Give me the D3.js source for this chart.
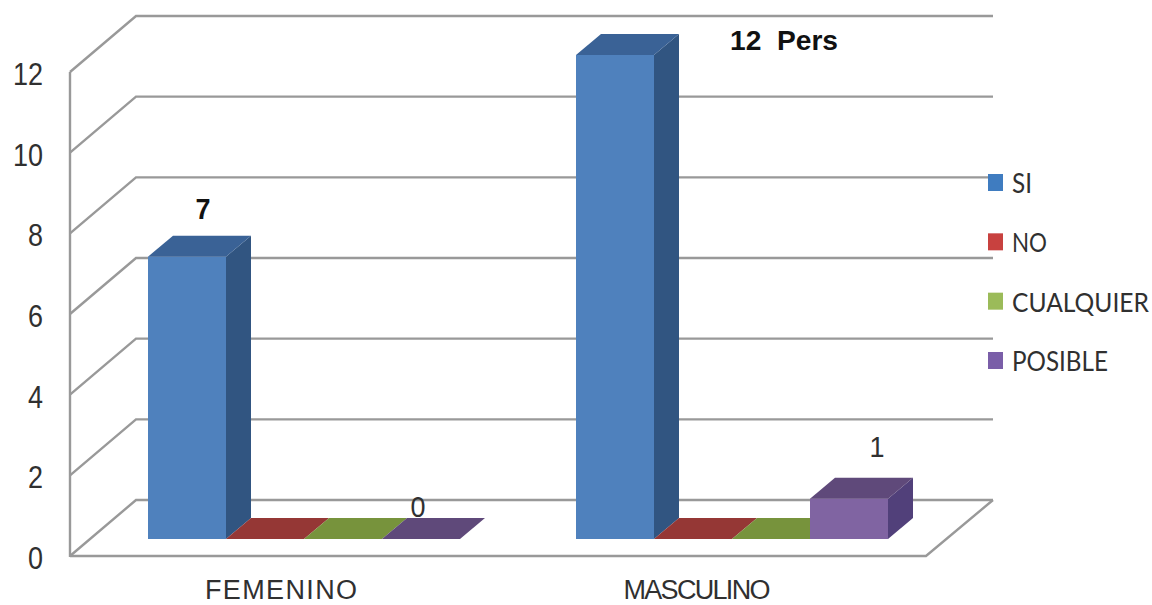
<!DOCTYPE html>
<html>
<head>
<meta charset="utf-8">
<script src="https://cdn.jsdelivr.net/npm/d3@7"></script>
<style>
  html, body { margin: 0; padding: 0; background: #fff; }
  svg { display: block; }
  text { font-family: "Liberation Sans", Arial, sans-serif; fill: #303030; }
</style>
</head>
<body>
<svg id="chart" width="1152" height="605"></svg>
<script>
const categories = ["FEMENINO", "MASCULINO"];
const seriesNames = ["SI", "NO", "CUALQUIER", "POSIBLE"];
const femenino = [7, 0, 0, 0];
const masculino = [12, 0, 0, 1];
const yTicks = [0, 2, 4, 6, 8, 10, 12];
const valueLabels = [
  { category: "FEMENINO", series: "SI", text: "7", bold: true },
  { category: "FEMENINO", series: "POSIBLE", text: "0", bold: false },
  { category: "MASCULINO", series: "SI", text: "12  Pers", bold: true },
  { category: "MASCULINO", series: "POSIBLE", text: "1", bold: false }
];

const fronts = ["#4f81bd", "#c0504d", "#9bbb59", "#8064a2"];
const tops = ["#3a6296", "#953735", "#77933c", "#5f497a"];
const sides = ["#315581", "#7f2f2d", "#647d33", "#51407a"];
const legendColors = ["#3f7cc0", "#c8413f", "#9bbb59", "#7a5ea8"];
const gridColor = "#999999";

const svg = d3.select("#chart");

// Front plane of the 3D box; the back wall is the same plane shifted by wall depth.
const yFront = d3.scaleLinear().domain([0, 12]).range([556, 72]);
const xCat = d3.scaleBand().domain(categories).range([70, 926]);
const wall = { dx: 66, dy: -56 };
const rightBack = 993;

// Bars stand on the floor a little behind the front edge and have their own depth.
const barLift = -17;
const barDepth = { dx: 25, dy: -21 };
const yBar = v => yFront(v) + barLift;
const xSeries = d3.scaleBand().domain(seriesNames).range([78, 390]);

const rows = { FEMENINO: femenino, MASCULINO: masculino };
const poly = pts => pts.map(p => p.join(",")).join(" ");

// Walls and floor gridlines
const grid = svg.append("g").attr("fill", "none").attr("stroke", gridColor).attr("stroke-width", 2.4);
grid.selectAll("polyline.wallline").data(yTicks).join("polyline")
  .attr("class", "wallline")
  .attr("points", d => poly([
    [xCat.range()[0], yFront(d)],
    [xCat.range()[0] + wall.dx, yFront(d) + wall.dy],
    [rightBack, yFront(d) + wall.dy]
  ]));
grid.append("line")
  .attr("x1", xCat.range()[0]).attr("x2", xCat.range()[0])
  .attr("y1", yFront(12)).attr("y2", yFront(0) + 1);
grid.append("polyline").attr("points", poly([
  [xCat.range()[0], yFront(0)],
  [xCat.range()[1], yFront(0)],
  [rightBack, yFront(0) + wall.dy]
]));

// Bars: front face, top face and right side, painted left to right
categories.forEach(cat => {
  rows[cat].forEach((v, i) => {
    const name = seriesNames[i];
    const x0 = xCat(cat) + xSeries(name);
    const x1 = x0 + xSeries.bandwidth();
    const yt = yBar(v), yb = yBar(0);
    const g = svg.append("g").attr("class", "bar");
    if (v > 0) {
      g.append("rect").attr("x", x0).attr("y", yt)
        .attr("width", x1 - x0).attr("height", yb - yt).attr("fill", fronts[i]);
      g.append("polygon").attr("fill", sides[i]).attr("points", poly([
        [x1, yt], [x1 + barDepth.dx, yt + barDepth.dy],
        [x1 + barDepth.dx, yb + barDepth.dy], [x1, yb]
      ]));
    }
    g.append("polygon").attr("fill", tops[i]).attr("points", poly([
      [x0, yt], [x1, yt],
      [x1 + barDepth.dx, yt + barDepth.dy], [x0 + barDepth.dx, yt + barDepth.dy]
    ]));
  });
});

// Value axis
svg.selectAll("text.tick").data(yTicks).join("text")
  .attr("class", "tick")
  .attr("x", 43)
  .attr("y", d => yFront(d) + 13)
  .attr("text-anchor", "end")
  .attr("font-size", 31)
  .attr("textLength", d => d >= 10 ? 30 : 15)
  .attr("lengthAdjust", "spacingAndGlyphs")
  .text(d => d);

// Category labels sit slightly off the band centres
const categoryShift = { FEMENINO: -3, MASCULINO: -15 };
svg.selectAll("text.cat").data(categories).join("text")
  .attr("class", "cat")
  .attr("x", d => xCat(d) + xCat.bandwidth() / 2 + categoryShift[d])
  .attr("y", 599)
  .attr("text-anchor", "middle")
  .attr("font-size", 27)
  .attr("textLength", d => d === "FEMENINO" ? 152 : 147)
  .attr("lengthAdjust", "spacing")
  .text(d => d);

// Value labels, offset from the top of their bar
const labelShift = {
  "FEMENINO|SI": { dx: 16, dy: -17, anchor: "middle" },
  "FEMENINO|POSIBLE": { dx: -3, dy: -1, anchor: "middle" },
  "MASCULINO|SI": { dx: 115, dy: 16, anchor: "start" },
  "MASCULINO|POSIBLE": { dx: 28, dy: -21, anchor: "middle" }
};
svg.selectAll("text.value").data(valueLabels).join("text")
  .attr("class", "value")
  .each(function (d) {
    const s = labelShift[d.category + "|" + d.series];
    const v = rows[d.category][seriesNames.indexOf(d.series)];
    const cx = xCat(d.category) + xSeries(d.series) + xSeries.bandwidth() / 2;
    d3.select(this)
      .attr("x", cx + s.dx)
      .attr("y", yBar(v) + barDepth.dy + s.dy)
      .attr("text-anchor", s.anchor);
  })
  .attr("font-size", d => d.text.length > 1 ? 28 : 30)
  .attr("font-weight", d => d.bold ? 700 : 400)
  .attr("textLength", d => d.text.length > 1 ? 108 : 15)
  .attr("lengthAdjust", "spacingAndGlyphs")
  .style("fill", d => d.bold ? "#111" : "#303030")
  .style("white-space", "pre")
  .text(d => d.text);

// Legend: each label is scaled horizontally to its narrow set width
const legendWidths = { SI: 20, NO: 35, CUALQUIER: 137, POSIBLE: 96 };
const yLegend = d3.scalePoint().domain(seriesNames).range([183, 361]);
const legend = svg.selectAll("g.legend").data(seriesNames).join("g")
  .attr("class", "legend")
  .attr("transform", d => `translate(988,${yLegend(d)})`);
legend.append("rect")
  .attr("x", 0).attr("y", -9).attr("width", 15).attr("height", 17)
  .attr("fill", (d, i) => legendColors[i]);
legend.append("text")
  .attr("font-size", 27)
  .style("font-family", "Lato, 'Open Sans', sans-serif")
  .text(d => d)
  .attr("transform", function (d) {
    const k = legendWidths[d] / this.getComputedTextLength();
    return `translate(24,10) scale(${k},1)`;
  });
</script>
</body>
</html>
